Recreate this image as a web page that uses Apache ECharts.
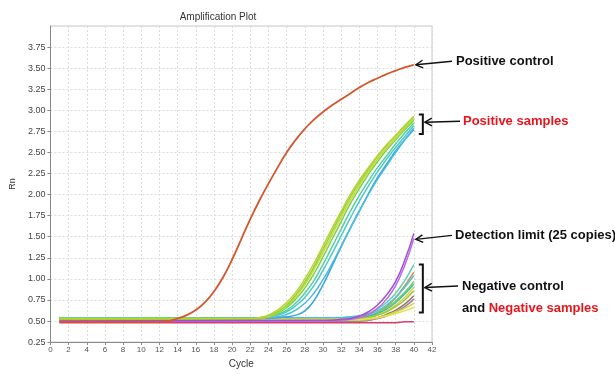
<!DOCTYPE html>
<html>
<head>
<meta charset="utf-8">
<script src="https://cdn.jsdelivr.net/npm/echarts@6/dist/echarts.min.js"></script>
<style>
html,body{margin:0;padding:0;background:#fff;}
#main{width:615px;height:374px;}
</style>
</head>
<body>
<div id="main"></div>
<script>
//x/y 轴刻度
var xTicks = [0, 42, 2];
var yTicks = [0.25, 4.0, 0.25];

//阳性对照
var ctrlCycles = [1, 12, 13, 14, 15, 16, 17, 18, 19, 20, 21, 22, 23, 24, 25, 26, 27, 28, 29, 30, 31, 32, 33, 34, 35, 36, 37, 38, 39, 40];
var ctrlValues = [0.49, 0.49, 0.50, 0.53, 0.57, 0.63, 0.72, 0.85, 1.02, 1.23, 1.47, 1.71, 1.93, 2.13, 2.32, 2.50, 2.65, 2.78, 2.89, 2.98, 3.06, 3.13, 3.20, 3.27, 3.33, 3.38, 3.43, 3.47, 3.51, 3.54];

//阳性样本
var posCycles = [1, 22, 23, 24, 25, 26, 27, 28, 29, 30, 31, 32, 33, 34, 35, 36, 37, 38, 39, 40];
var posColors = ['#b5d430', '#96d13a', '#c6da3a', '#7ccf4a', '#55d0a0', '#4cc8c6', '#46bde0', '#38a6dc'];
var pos1 = [0.53, 0.53, 0.54, 0.57, 0.63, 0.72, 0.84, 1.00, 1.18, 1.39, 1.60, 1.80, 2.00, 2.17, 2.32, 2.46, 2.59, 2.70, 2.81, 2.92];
var pos2 = [0.52, 0.52, 0.53, 0.56, 0.61, 0.69, 0.81, 0.96, 1.14, 1.35, 1.56, 1.77, 1.97, 2.14, 2.30, 2.45, 2.58, 2.70, 2.82, 2.93];
var pos3 = [0.52, 0.52, 0.53, 0.55, 0.60, 0.68, 0.79, 0.93, 1.11, 1.31, 1.52, 1.73, 1.93, 2.11, 2.27, 2.42, 2.55, 2.67, 2.79, 2.90];
var pos4 = [0.53, 0.53, 0.53, 0.55, 0.59, 0.66, 0.76, 0.89, 1.06, 1.26, 1.47, 1.68, 1.89, 2.07, 2.24, 2.39, 2.53, 2.65, 2.77, 2.88];
var pos5 = [0.54, 0.54, 0.54, 0.55, 0.58, 0.63, 0.71, 0.83, 0.98, 1.17, 1.38, 1.59, 1.80, 1.99, 2.16, 2.32, 2.46, 2.60, 2.73, 2.85];
var pos6 = [0.54, 0.54, 0.54, 0.55, 0.57, 0.61, 0.68, 0.78, 0.92, 1.10, 1.30, 1.51, 1.72, 1.92, 2.10, 2.27, 2.42, 2.56, 2.69, 2.82];
var pos7 = [0.54, 0.54, 0.54, 0.54, 0.55, 0.58, 0.63, 0.71, 0.83, 0.99, 1.18, 1.39, 1.60, 1.81, 2.00, 2.18, 2.34, 2.50, 2.65, 2.79];
var pos8 = [0.53, 0.53, 0.53, 0.53, 0.54, 0.55, 0.57, 0.62, 0.74, 0.93, 1.15, 1.38, 1.60, 1.80, 2.01, 2.20, 2.36, 2.52, 2.65, 2.77];

//检测限 + 阴性
var negCycles = [1, 30, 31, 32, 33, 34, 35, 36, 37, 38, 39, 40];
var limColors = ['#a24ed6', '#b86de0'];
var lim1 = [0.50, 0.51, 0.51, 0.52, 0.53, 0.56, 0.61, 0.69, 0.81, 0.97, 1.22, 1.54];
var lim2 = [0.50, 0.50, 0.51, 0.51, 0.52, 0.54, 0.58, 0.65, 0.76, 0.92, 1.16, 1.48];
var negColors = ['#5fd3b0', '#d98a4a', '#4cc6d6', '#7dcf48', '#3fb9c0', '#d8d03a', '#a0c43c', '#8c7a6a', '#b07aa0', '#c4dc40', '#e6e04a', '#d4406a'];
var neg1 = [0.54, 0.54, 0.54, 0.54, 0.55, 0.56, 0.59, 0.64, 0.72, 0.83, 0.98, 1.17];
var neg2 = [0.50, 0.50, 0.50, 0.50, 0.51, 0.52, 0.55, 0.60, 0.67, 0.78, 0.92, 1.08];
var neg3 = [0.54, 0.54, 0.54, 0.54, 0.55, 0.56, 0.58, 0.62, 0.69, 0.78, 0.90, 1.04];
var neg4 = [0.52, 0.52, 0.52, 0.52, 0.53, 0.54, 0.56, 0.60, 0.66, 0.74, 0.84, 0.97];
var neg5 = [0.53, 0.53, 0.53, 0.53, 0.53, 0.54, 0.56, 0.59, 0.64, 0.72, 0.82, 0.94];
var neg6 = [0.51, 0.51, 0.51, 0.51, 0.51, 0.52, 0.54, 0.57, 0.62, 0.69, 0.78, 0.90];
var neg7 = [0.52, 0.52, 0.52, 0.52, 0.52, 0.53, 0.54, 0.57, 0.61, 0.67, 0.75, 0.86];
var neg8 = [0.49, 0.49, 0.49, 0.49, 0.49, 0.50, 0.51, 0.54, 0.58, 0.63, 0.70, 0.80];
var neg9 = [0.49, 0.49, 0.49, 0.49, 0.49, 0.50, 0.51, 0.53, 0.56, 0.61, 0.67, 0.76];
var neg10 = [0.51, 0.51, 0.51, 0.51, 0.51, 0.51, 0.52, 0.54, 0.57, 0.61, 0.65, 0.71];
var neg11 = [0.52, 0.52, 0.52, 0.52, 0.52, 0.52, 0.53, 0.54, 0.56, 0.59, 0.62, 0.66];
var neg12 = [0.48, 0.48, 0.48, 0.48, 0.48, 0.48, 0.48, 0.48, 0.48, 0.48, 0.49, 0.49];

var boldFont = '"Liberation Sans", Arial, sans-serif';

function toPairs(xs, ys){
	return xs.map(function(x, i){ return [x, ys[i]]; });
}
function lineSeries(xs, ys, color, width){
	return {
		type: 'line',
		data: toPairs(xs, ys),
		showSymbol: false,
		symbol: 'none',
		smooth: 0.5,
		silent: true,
		lineStyle: { color: color, width: width || 1.5 },
		z: 2
	};
}

var series = [];
[neg1, neg2, neg3, neg4, neg5, neg6, neg7, neg8, neg9, neg10, neg11, neg12].forEach(function(v, i){
	series.push(lineSeries(negCycles, v, negColors[i]));
});
[pos8, pos7, pos6, pos5, pos4, pos3, pos2, pos1].forEach(function(v, i){
	series.push(lineSeries(posCycles, v, posColors[7 - i]));
});
[lim2, lim1].forEach(function(v, i){
	series.push(lineSeries(negCycles, v, limColors[1 - i]));
});
series.push(lineSeries(ctrlCycles, ctrlValues, '#d4562c', 1.8));

var chart = echarts.init(document.getElementById('main'));
var option = {
	animation: false,
	backgroundColor: '#fff',
	grid: {
		left: 48, right: 183, top: 26, bottom: 26,
		show: true, borderColor: '#c8c8c8', borderWidth: 1
	},
	xAxis: {
		type: 'value',
		min: xTicks[0], max: xTicks[1], interval: xTicks[2],
		name: 'Cycle',
		nameLocation: 'middle',
		nameGap: 15,
		nameTextStyle: { fontSize: 10, color: '#333', fontFamily: 'Liberation Sans, Arial, sans-serif' },
		axisLine: { lineStyle: { color: '#8a8a8a' } },
		axisTick: { length: 3, lineStyle: { color: '#8a8a8a' } },
		axisLabel: { fontSize: 8, color: '#555', margin: 4, fontFamily: 'Liberation Sans, Arial, sans-serif' },
		splitLine: { show: true, lineStyle: { color: '#dcdcdc', type: [2, 2] } }
	},
	yAxis: {
		type: 'value',
		min: yTicks[0], max: yTicks[1], interval: yTicks[2],
		name: 'Rn',
		nameLocation: 'middle',
		nameGap: 32,
		nameRotate: 90,
		nameTextStyle: { fontSize: 9, color: '#333', fontFamily: 'Liberation Sans, Arial, sans-serif' },
		axisLine: { show: true, lineStyle: { color: '#8a8a8a' } },
		axisTick: { show: true, length: 3, lineStyle: { color: '#8a8a8a' } },
		axisLabel: {
			fontSize: 9, color: '#444', margin: 5, showMaxLabel: false,
			fontFamily: 'Liberation Sans, Arial, sans-serif',
			formatter: function(v){ return v.toFixed(2); }
		},
		splitLine: { show: true, lineStyle: { color: '#dcdcdc', type: [2, 2] } }
	},
	series: series
};
chart.setOption(option);

/*
 * 右侧注释：箭头、括号、文字
 */
function arrowEls(x1, y1, x2, y2){
	var ang = Math.atan2(y2 - y1, x2 - x1);
	var len = 8, spread = 0.5;
	var h1 = [x2 - len * Math.cos(ang - spread), y2 - len * Math.sin(ang - spread)];
	var h2 = [x2 - len * Math.cos(ang + spread), y2 - len * Math.sin(ang + spread)];
	return [
		{ type: 'line', shape: { x1: x1, y1: y1, x2: x2, y2: y2 }, style: { stroke: '#111', lineWidth: 1.4 }, z: 10 },
		{ type: 'polyline', shape: { points: [h1, [x2, y2], h2] }, style: { stroke: '#111', lineWidth: 1.4, fill: null }, z: 10 }
	];
}
function bracketEl(x, top, bottom){
	return { type: 'polyline', shape: { points: [[x - 4, top], [x, top], [x, bottom], [x - 4, bottom]] },
		style: { stroke: '#111', lineWidth: 2, fill: null }, z: 10 };
}
function textEl(x, y, text, color, rich){
	return { type: 'text', x: x, y: y, z: 10,
		style: { text: text, fill: color, fontSize: 13, fontWeight: 'bold', fontFamily: boldFont,
			verticalAlign: 'middle', rich: rich } };
}
function px(c, v){ return chart.convertToPixel({ gridIndex: 0 }, [c, v]); }

var pcEnd = px(40, ctrlValues[ctrlValues.length - 1]);
var posTop = px(40, 2.95), posBot = px(40, 2.72);
var limEnd = px(40, 1.48);
var negTop = px(40, 1.17), negBot = px(40, 0.60);
var bx = pcEnd[0] + 9;
var posMid = (posTop[1] + posBot[1]) / 2 - 2;
var negMid = (negTop[1] + negBot[1]) / 2 - 1;

var g = [];
g.push({ type: 'text', x: 218, y: 17, z: 10,
	style: { text: 'Amplification Plot', fill: '#333', fontSize: 10, fontFamily: 'Liberation Sans, Arial, sans-serif',
		align: 'center', verticalAlign: 'middle' } });
g = g.concat(arrowEls(452, pcEnd[1] - 3.5, pcEnd[0] + 2, pcEnd[1]));
g.push(textEl(456, pcEnd[1] - 3.5, 'Positive control', '#111'));
g.push(bracketEl(bx, posTop[1], posBot[1]));
g = g.concat(arrowEls(460, posMid - 1, bx + 2, posMid));
g.push(textEl(463, posMid - 1, 'Positive samples', '#e8141c'));
g = g.concat(arrowEls(452, limEnd[1] - 3, limEnd[0] + 2, limEnd[1] + 1));
g.push(textEl(455, limEnd[1] - 3, 'Detection limit (25 copies)', '#111'));
g.push(bracketEl(bx, negTop[1], negBot[1]));
g = g.concat(arrowEls(458, negMid - 1.5, bx + 2, negMid));
g.push(textEl(462, negMid - 1, 'Negative control', '#111'));
g.push(textEl(462, negMid + 21, '{k|and }{r|Negative samples}', '#111', {
	k: { fill: '#111', fontSize: 13, fontWeight: 'bold', fontFamily: boldFont },
	r: { fill: '#e8141c', fontSize: 13, fontWeight: 'bold', fontFamily: boldFont }
}));
chart.setOption({ graphic: g });
</script>
</body>
</html>
